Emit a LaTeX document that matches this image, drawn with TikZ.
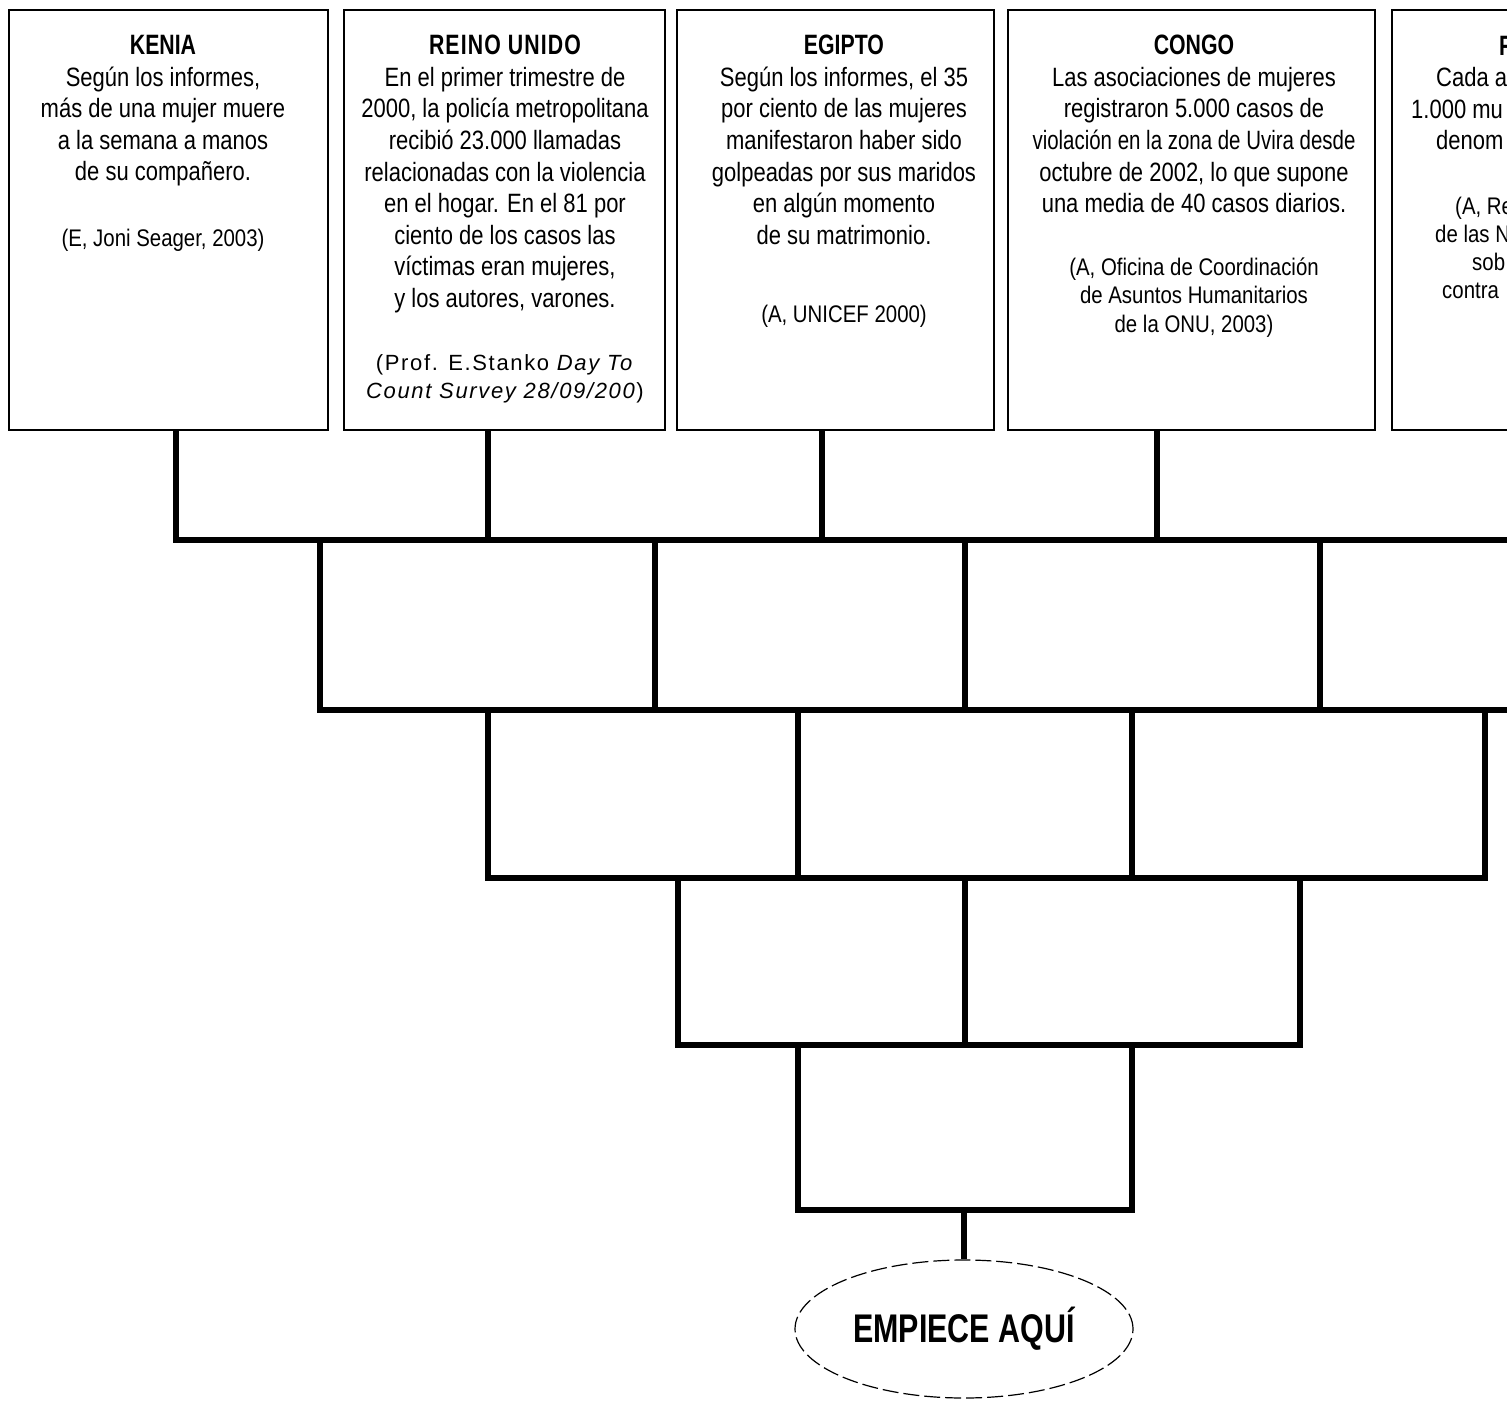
\documentclass[tikz,border=0pt]{standalone}
\usepackage{fontspec}
\usepackage{graphicx}
\usepackage{tikz}
\usetikzlibrary{shapes}
\usetikzlibrary{positioning}
\setmainfont{Liberation Sans}[FakeStretch=0.83]
\newfontfamily\ttlfont{Liberation Sans}[FakeStretch=0.76]
\newfontfamily\srcfont{Liberation Sans}[FakeStretch=0.85]
\newfontfamily\srcwide{Liberation Sans}[LetterSpace=7.5]
\newcommand\titulo[1]{{\ttlfont\bfseries\fontsize{28}{31.6}\selectfont #1}}

\begin{document}
\begin{tikzpicture}[x=1pt,y=-1pt]
            \tikzset{caja/.style={draw, rectangle, line width=1.8pt, minimum height=420pt, inner sep=0pt},
                    texto/.style={align=center, inner sep=0pt, anchor=north, font=\fontsize{26.5}{31.6}\selectfont},
                    fuente/.style={align=center, inner sep=0pt, anchor=north, font=\srcfont\fontsize{24}{28.5}\selectfont},
                    muro/.style={draw=black, line width=5.5pt, line join=miter}}
            \useasboundingbox (0,0) rectangle (1507,1400);
            \clip (0,0) rectangle (1507,1400);
            % cajas de arriba
            \node[caja, minimum width=319pt] (kenia) at (168.5,220) {};
            \node[caja, minimum width=321pt] (reino) at (504.5,220) {};
            \node[caja, minimum width=317pt] (egipto) at (835.5,220) {};
            \node[caja, minimum width=367pt] (congo) at (1191.5,220) {};
            \node[caja, minimum width=360pt] (quinto) at (1572,220) {};
            \node[texto] (kenia-txt) at (163,35) {\titulo{KENIA}\\ Según los informes,\\ más de una mujer muere\\ a la semana a manos\\ de su compañero.};
            \node[fuente] (kenia-src) at (163,228.5) {(E, Joni Seager, 2003)};
            \node[texto] (reino-txt) at (505,35) {\titulo{\addfontfeature{LetterSpace=4}REINO UNIDO}\\ En el primer trimestre de\\ 2000, la policía metropolitana\\ recibió 23.000 llamadas\\ relacionadas con la violencia\\ en el hogar. En el 81 por\\ ciento de los casos las\\ víctimas eran mujeres,\\ y los autores, varones.};
            \node[fuente, font=\srcwide\fontsize{22}{28}\selectfont] (reino-src) at (505,354.5) {(Prof. E.Stanko \textit{Day To}\\ \textit{Count Survey 28/09/200})};
            \node[texto] (egipto-txt) at (844,35) {\titulo{EGIPTO}\\ Según los informes, el 35\\ por ciento de las mujeres\\ manifestaron haber sido\\ golpeadas por sus maridos\\ en algún momento\\ de su matrimonio.};
            \node[fuente] (egipto-src) at (844,304.5) {(A, UNICEF 2000)};
            \node[texto] (congo-txt) at (1194,35) {\titulo{CONGO}\\ Las asociaciones de mujeres\\ registraron 5.000 casos de\\ \scalebox{0.93}[1]{violación en la zona de Uvira desde}\\ octubre de 2002, lo que supone\\ una media de 40 casos diarios.};
            \node[fuente] (congo-src) at (1194,257.5) {(A, Oficina de Coordinación\\ de Asuntos Humanitarios\\ de la ONU, 2003)};
            % la caja cortada a la derecha
            \node[texto, anchor=base west] (q1) at (1499,55) {\titulo{F}};
            \node[texto, anchor=base west] (q2) at (1436,86.6) {Cada añ};
            \node[texto, anchor=base west] (q3) at (1411,118.2) {1.000 mu};
            \node[texto, anchor=base west] (q4) at (1436,149.8) {denom};
            \node[fuente, anchor=base west] (q5) at (1455,214) {(A, Re};
            \node[fuente, anchor=base west] (q6) at (1435,242) {de las N};
            \node[fuente, anchor=base west] (q7) at (1472,270) {sob};
            \node[fuente, anchor=base west] (q8) at (1442,298) {contra};
            % muro
            \coordinate (m1) at (176,540);
            \coordinate (m2) at (488,540);
            \coordinate (m3) at (822,540);
            \coordinate (m4) at (1157,540);
            \draw[muro] (kenia.south -| m1) -- (m1) -- (1515,540);
            \draw[muro] (reino.south -| m2) -- (m2);
            \draw[muro] (egipto.south -| m3) -- (m3);
            \draw[muro] (congo.south -| m4) -- (m4);
            \draw[muro] (320,540) -- (320,710) -- (1515,710);
            \foreach \x in {655,965,1320}
                \draw[muro] (\x,540) -- (\x,710);
            \draw[muro] (488,710) -- (488,878) -- (1485,878) -- (1485,710);
            \foreach \x in {798,1132}
                \draw[muro] (\x,710) -- (\x,878);
            \draw[muro] (678,878) -- (678,1045) -- (1300,1045) -- (1300,878);
            \draw[muro] (965,878) -- (965,1045);
            \draw[muro] (798,1045) -- (798,1210) -- (1132,1210) -- (1132,1045);
            \node[draw, ellipse, line width=1.2pt, dash pattern=on 16pt off 5pt, minimum width=338pt, minimum height=138pt, inner sep=0pt, font=\ttlfont\bfseries\fontsize{40}{40}\selectfont] (inicio) at (964,1329) {EMPIECE AQUÍ};
            \coordinate (m5) at (964,1210);
            \draw[muro] (m5) -- (inicio.north);
        \end{tikzpicture}
\end{document}
